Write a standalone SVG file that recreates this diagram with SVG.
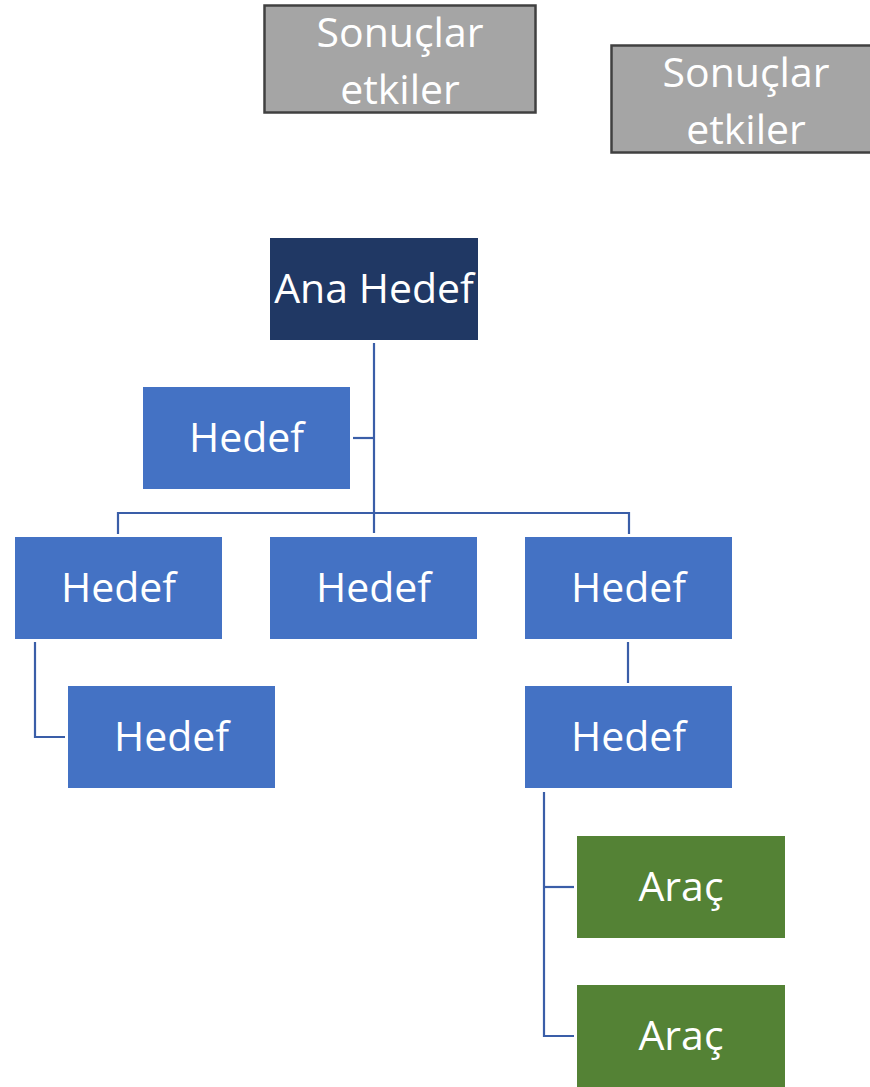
<svg xmlns="http://www.w3.org/2000/svg" width="870" height="1087" viewBox="0 0 870 1087">
  <style>
    .lbl { font-family: "Open Sans", "Noto Sans", sans-serif; font-size: 41px; fill: #ffffff; text-anchor: middle; }
    .res { fill: #a5a5a5; stroke: #404040; stroke-width: 2.5; }
    .top { fill: #203864; }
    .goal { fill: #4472c4; }
    .tool { fill: #548235; }
    .wire { fill: none; stroke: #3a5ea8; stroke-width: 2.2; }
  </style>
  <rect width="870" height="1087" fill="#ffffff"/>

  <g id="result-1">
    <rect class="res" x="264.5" y="5.5" width="271" height="107"/>
    <text class="lbl" x="400" y="47">Sonuçlar</text>
    <text class="lbl" x="400" y="104">etkiler</text>
  </g>
  <g id="result-2">
    <rect class="res" x="611.5" y="45.5" width="262" height="107"/>
    <text class="lbl" x="746" y="87">Sonuçlar</text>
    <text class="lbl" x="746" y="144">etkiler</text>
  </g>

  <g id="connectors">
    <polyline class="wire" points="374,343 374,533"/>
    <polyline class="wire" points="353,438 374,438"/>
    <polyline class="wire" points="118,534 118,513 629,513 629,534"/>
    <polyline class="wire" points="35,642 35,737 65,737"/>
    <polyline class="wire" points="628,642 628,683"/>
    <polyline class="wire" points="544,792 544,1036 574,1036"/>
    <polyline class="wire" points="544,887 574,887"/>
  </g>

  <g id="main-goal">
    <rect class="top" x="270" y="238" width="208" height="102"/>
    <text class="lbl" x="374" y="303">Ana Hedef</text>
  </g>
  <g id="goal-assistant">
    <rect class="goal" x="143" y="387" width="207" height="102"/>
    <text class="lbl" x="246.5" y="452">Hedef</text>
  </g>
  <g id="goal-left">
    <rect class="goal" x="15" y="537" width="207" height="102"/>
    <text class="lbl" x="118.5" y="602">Hedef</text>
  </g>
  <g id="goal-middle">
    <rect class="goal" x="270" y="537" width="207" height="102"/>
    <text class="lbl" x="373.5" y="602">Hedef</text>
  </g>
  <g id="goal-right">
    <rect class="goal" x="525" y="537" width="207" height="102"/>
    <text class="lbl" x="628.5" y="602">Hedef</text>
  </g>
  <g id="goal-left-child">
    <rect class="goal" x="68" y="686" width="207" height="102"/>
    <text class="lbl" x="171.5" y="751">Hedef</text>
  </g>
  <g id="goal-right-child">
    <rect class="goal" x="525" y="686" width="207" height="102"/>
    <text class="lbl" x="628.5" y="751">Hedef</text>
  </g>
  <g id="tool-1">
    <rect class="tool" x="577" y="836" width="208" height="102"/>
    <text class="lbl" x="681" y="901">Araç</text>
  </g>
  <g id="tool-2">
    <rect class="tool" x="577" y="985" width="208" height="102"/>
    <text class="lbl" x="681" y="1050">Araç</text>
  </g>
</svg>
